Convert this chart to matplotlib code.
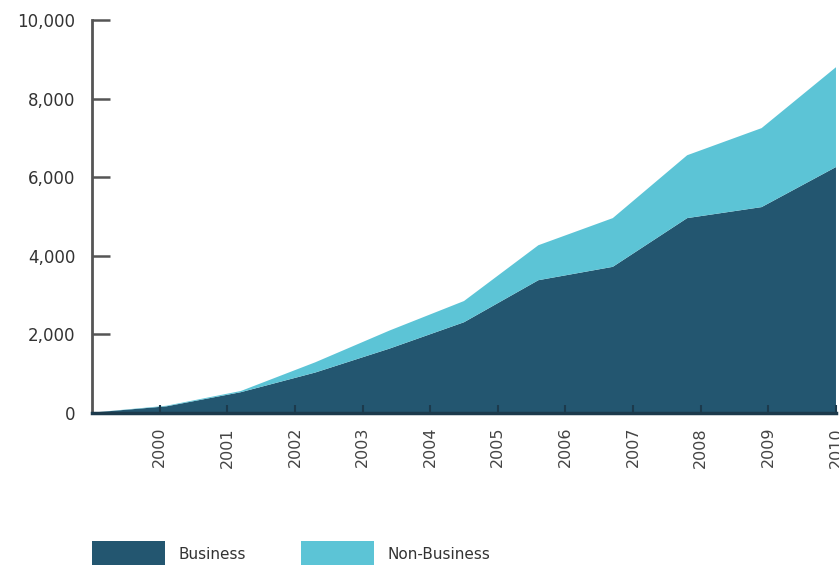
import matplotlib.pyplot as plt
import numpy as np

plt.rcParams['font.family'] = ['DejaVu Sans']

# Data (11 evenly spaced points along the axis)
years = ['2000', '2001', '2002', '2003', '2004', '2005',
         '2006', '2007', '2008', '2009', '2010']
business = [10, 170, 530, 1030, 1640, 2310, 3380, 3720, 4960, 5240, 6260]
total = [10, 185, 560, 1290, 2100, 2850, 4270, 4960, 6560, 7250, 8800]
non_business = [t - b for t, b in zip(total, business)]

dark = '#235670'
light = '#5cc4d6'

fig = plt.figure(figsize=(8.39, 5.65), dpi=100)
ax = fig.add_axes([0.1097, 0.269, 0.8867, 0.6955])

x = np.arange(len(business))
ax.stackplot(x, business, non_business, colors=[dark, light],
             labels=['Business', 'Non-Business'], linewidth=0)

ax.set_xlim(0, len(business) - 1)
ax.set_ylim(0, 10000)

# year ticks: axis spans 1999..2010 while the data spans the same width
tick_pos = [(int(y) - 1999) * (len(business) - 1) / 11 for y in years]
ax.set_xticks(tick_pos)
ax.set_xticklabels(years, rotation=90)
ax.set_yticks([0, 2000, 4000, 6000, 8000, 10000])
ax.set_yticklabels(['0', '2,000', '4,000', '6,000', '8,000', '10,000'])

for s in ['top', 'right']:
    ax.spines[s].set_visible(False)
ax.spines['left'].set_color('#555555')
ax.spines['left'].set_linewidth(2)
ax.spines['bottom'].set_color('#1c3a4c')
ax.spines['bottom'].set_linewidth(2.5)

ax.tick_params(axis='y', direction='in', length=13, width=1.8,
               color='#555555', labelsize=12, labelcolor='#333333', pad=12)
ax.tick_params(axis='x', direction='in', length=6, width=1.5,
               color='#1c3a4c', labelsize=11.5, labelcolor='#444444', pad=10)

fig.legend(loc='upper left', bbox_to_anchor=(0.1097, 1 - 541 / 565),
           ncol=2, frameon=False, fontsize=11, handlelength=4.8,
           handleheight=2.2, handletextpad=0.85, columnspacing=3.6,
           borderpad=0, borderaxespad=0, labelcolor='#333333')

fig.savefig('out.png', dpi=100)
